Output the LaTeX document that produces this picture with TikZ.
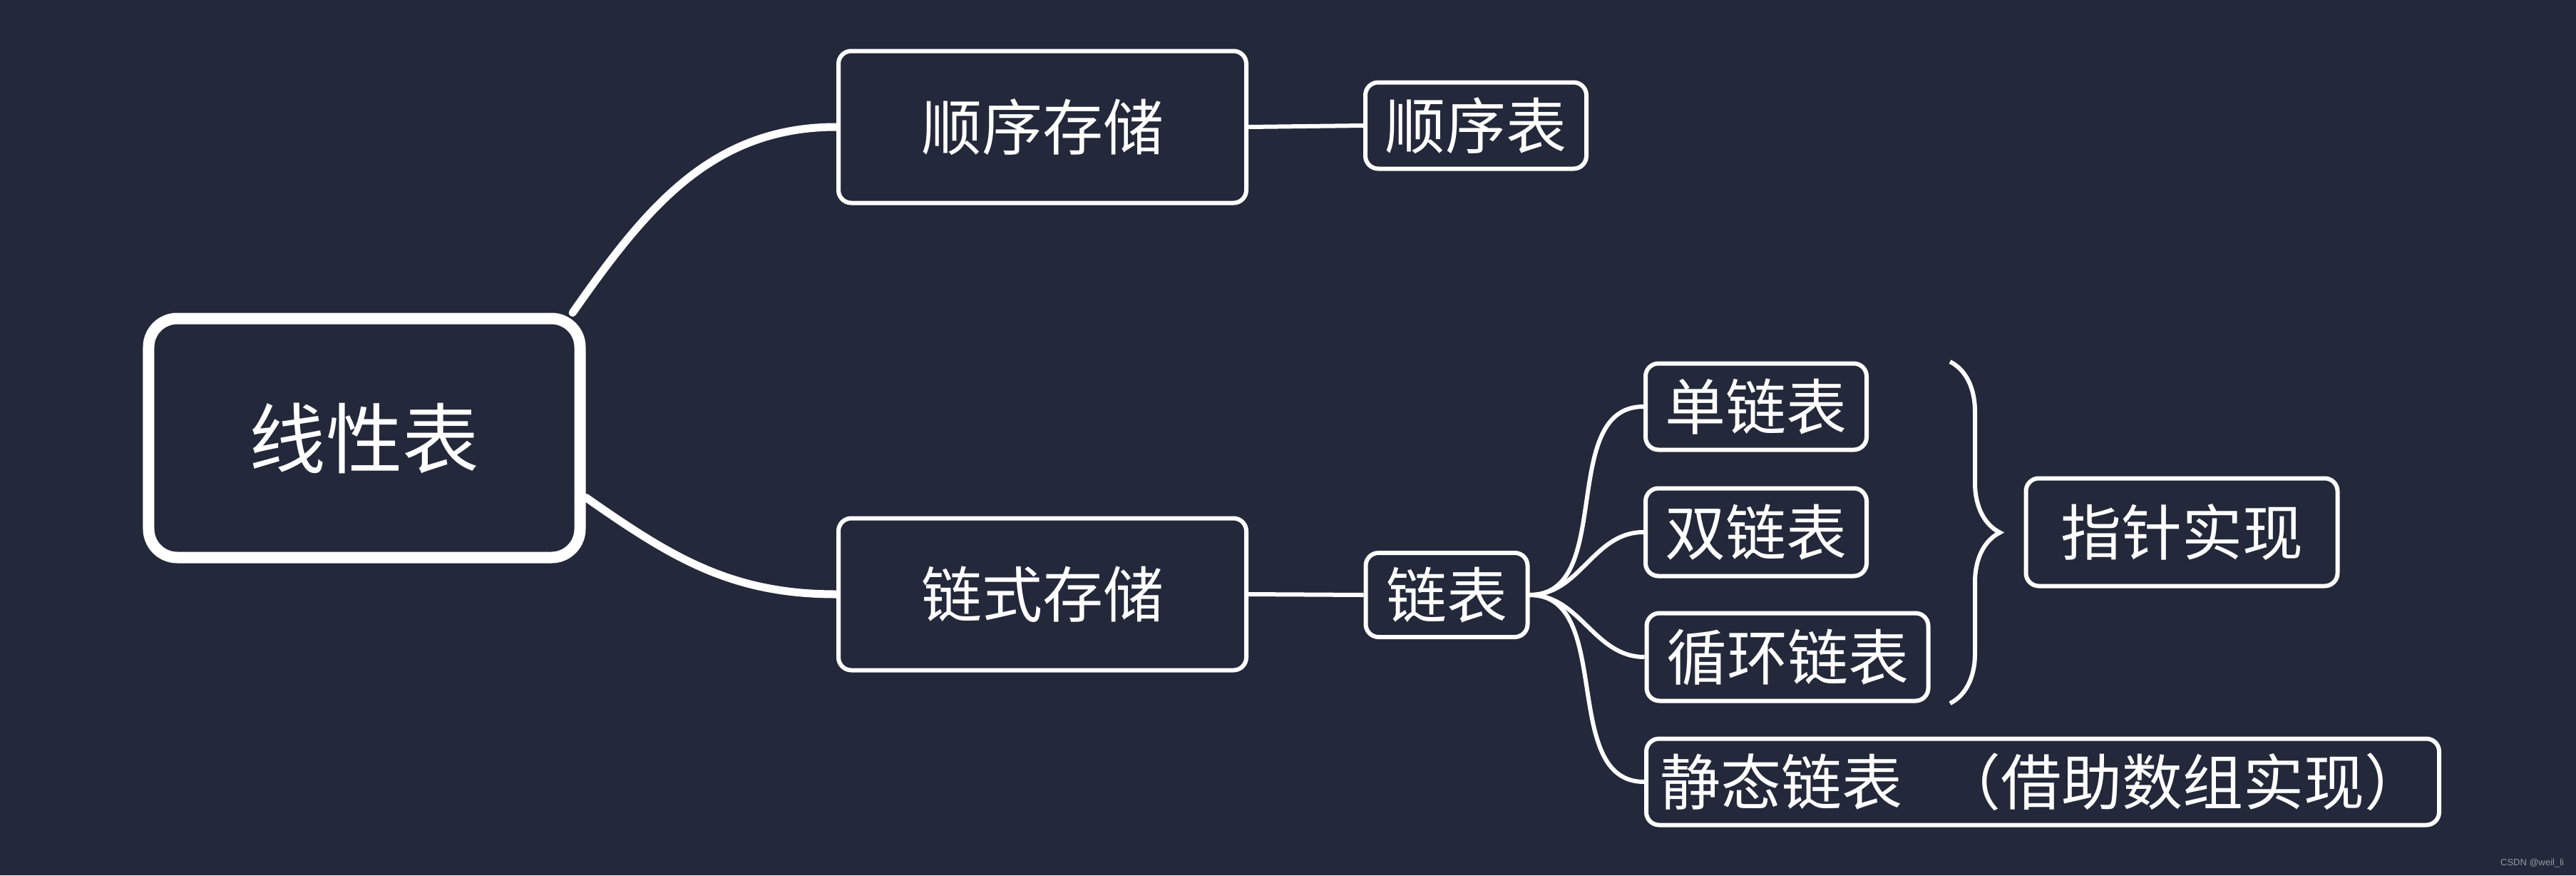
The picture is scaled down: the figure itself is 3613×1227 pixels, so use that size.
\documentclass[tikz,border=0pt]{standalone}
\usepackage{fontspec}
\newfontfamily\cjkfont{Noto Sans CJK SC}
\newfontfamily\wmfont{Liberation Sans}
\usetikzlibrary{decorations.pathreplacing}
\definecolor{bgnavy}{RGB}{35,40,58}
\definecolor{wmgray}{RGB}{150,155,165}

\tikzset{every picture/.style={line width=0.75pt}}
\tikzset{
  mainbox/.style={draw=white, line width=3.2pt, rounded corners=8pt, fill=bgnavy, text=white,
    font=\cjkfont\fontsize{21.5}{24}\selectfont, minimum width=121pt, minimum height=67pt, inner sep=0pt},
  subbox/.style={draw=white, line width=1.2pt, rounded corners=3.6pt, fill=bgnavy, text=white,
    font=\cjkfont\fontsize{17}{20}\selectfont, minimum height=24.2pt, inner sep=0pt},
  mainlink/.style={draw=white, line width=2.2pt, line cap=round},
  sublink/.style={draw=white, line width=1.2pt},
  bracelink/.style={draw=white, line width=1.2pt, decorate, decoration={brace, amplitude=14pt}},
}

\begin{document}
\begin{tikzpicture}[x=0.2pt,y=0.2pt,yscale=-1,xscale=1]
    % background, sets the page size
    \fill[bgnavy] (0,0) rectangle (3613,1227);

    %Shape: root
    \node[mainbox] (xxb) at (511,614) {线性表};

    %Shape: first level
    \node[subbox, minimum width=114.4pt, minimum height=42.6pt] (sxcc) at (1462,178) {顺序存储};
    \node[subbox, minimum width=114.4pt, minimum height=42.6pt] (lscc) at (1462,833) {链式存储};

    %Shape: second level
    \node[subbox, minimum width=62pt] (sxb) at (2070,176) {顺序表};
    \node[subbox, minimum width=45.4pt, minimum height=23.6pt] (lb) at (2029,834) {链表};

    %Shape: kinds of linked list
    \node[subbox, minimum width=62pt] (dlb) at (2463,570) {单链表};
    \node[subbox, minimum width=62pt, minimum height=24.6pt] (slb) at (2463,746) {双链表};
    \node[subbox, minimum width=79pt, minimum height=24.6pt] (xhlb) at (2507,921) {循环链表};
    \node[subbox, minimum width=222.4pt] (jtlb) at (2865,1096) {静态链表\hspace{0.62em}（借助数组实现）};

    %Shape: brace target
    \node[subbox, minimum width=87.4pt, minimum height=30.2pt] (zzsx) at (3060,746) {指针实现};

    %Curves from the root
    \draw[mainlink] (xxb.31) to[out=-55,in=180] (sxcc.west);
    \draw[mainlink] (xxb.-15) to[out=35,in=180] (lscc.west);

    %Straight Lines
    \draw[sublink] (sxcc.east) -- (sxb.west);
    \draw[sublink] (lscc.east) -- (lb.west);

    %Curves from the linked list
    \foreach \kid in {dlb,slb,xhlb,jtlb}
        \draw[sublink] (lb.east) to[out=0,in=180] (\kid.west);

    %Brace
    \coordinate (bracetop) at (2735,507);
    \coordinate (bracebot) at (2735,986);
    \draw[bracelink] (bracetop) -- (bracebot);

    % Text Node
    \node[font=\wmfont\fontsize{2.6}{3}\selectfont, text=wmgray, anchor=east, inner sep=0pt] (wm) at (3598,1210) {CSDN @weil\_li};
\end{tikzpicture}
\end{document}
